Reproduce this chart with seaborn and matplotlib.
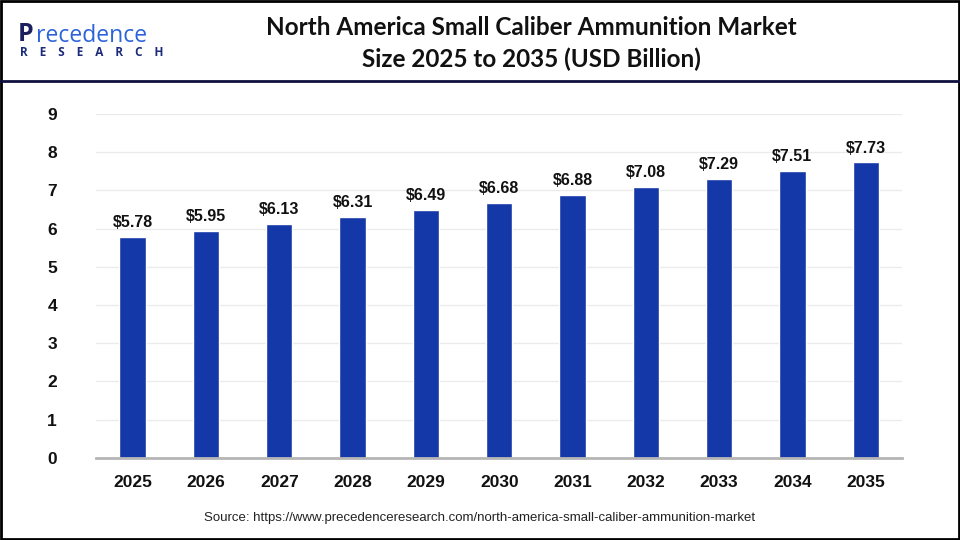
import matplotlib
matplotlib.use('Agg')
import matplotlib.pyplot as plt
import seaborn as sns
import pandas as pd

years = ["2025", "2026", "2027", "2028", "2029", "2030", "2031", "2032", "2033", "2034", "2035"]
market_size = [5.78, 5.95, 6.13, 6.31, 6.49, 6.68, 6.88, 7.08, 7.29, 7.51, 7.73]
y_ticks = [0, 1, 2, 3, 4, 5, 6, 7, 8, 9]

title = "North America Small Caliber Ammunition Market\nSize 2025 to 2035 (USD Billion)"
source = "Source: https://www.precedenceresearch.com/north-america-small-caliber-ammunition-market"

sns.set_theme(style="white")
plt.rcParams['font.family'] = ['Liberation Sans', 'DejaVu Sans']

df = pd.DataFrame({"year": years, "value": market_size})

fig = plt.figure(figsize=(9.6, 5.4), dpi=100)
ax = fig.add_axes([0.1, 0.152, 0.84, 0.637])

sns.barplot(data=df, x="year", y="value", color="#1438A8", saturation=1, width=0.36, ax=ax)

ax.set_xlim(-0.5, len(years) - 0.5)
ax.set_ylim(0, 9)
ax.set_yticks(y_ticks)
ax.yaxis.grid(True, color="#ebebeb", linewidth=1)
ax.set_axisbelow(True)
ax.set_xlabel("")
ax.set_ylabel("")
for side in ["top", "right", "left"]:
    ax.spines[side].set_visible(False)
ax.spines["bottom"].set_color("#b5b5b5")
ax.spines["bottom"].set_linewidth(2)
ax.tick_params(axis="both", length=0, labelsize=12.5)
ax.tick_params(axis="x", pad=12)
ax.tick_params(axis="y", pad=28)
for lbl in ax.get_xticklabels() + ax.get_yticklabels():
    lbl.set_fontweight("bold")
    lbl.set_color("#111111")

ax.bar_label(ax.containers[0], labels=[f"${v:.2f}" for v in market_size],
             padding=5, fontsize=11.5, fontweight="bold", color="#111111")

# header
fig.text(0.554, 0.919, title, ha="center", va="center", fontsize=17.5,
         fontweight="bold", family=["Lato", "DejaVu Sans"], linespacing=1.42, color="#111111")
fig.text(0.5, 0.04, source, ha="center", va="center", fontsize=9.5, color="#222222")

# logo
fig.text(0.019, 0.936, "P", ha="left", va="center", fontsize=18, fontweight="bold",
         color="#1b1f5e", family=["Open Sans", "DejaVu Sans"])
fig.text(0.037, 0.934, "recedence", ha="left", va="center", fontsize=16.5,
         color="#2c63d8", family=["Open Sans", "DejaVu Sans"])
fig.text(0.021, 0.902, "R    E    S    E    A    R    C    H", ha="left", va="center", fontsize=8.5,
         fontweight="bold", color="#1b2a7a", family=["Open Sans", "DejaVu Sans"])

# frame and header separator
fig.add_artist(plt.Line2D([0, 1], [0.85, 0.85], color="#0e1140", linewidth=2, transform=fig.transFigure))
fig.add_artist(plt.Rectangle((0.001, 0.002), 0.998, 0.996, fill=False, edgecolor="black",
                             linewidth=2, transform=fig.transFigure))

fig.savefig("out.png", dpi=100)
